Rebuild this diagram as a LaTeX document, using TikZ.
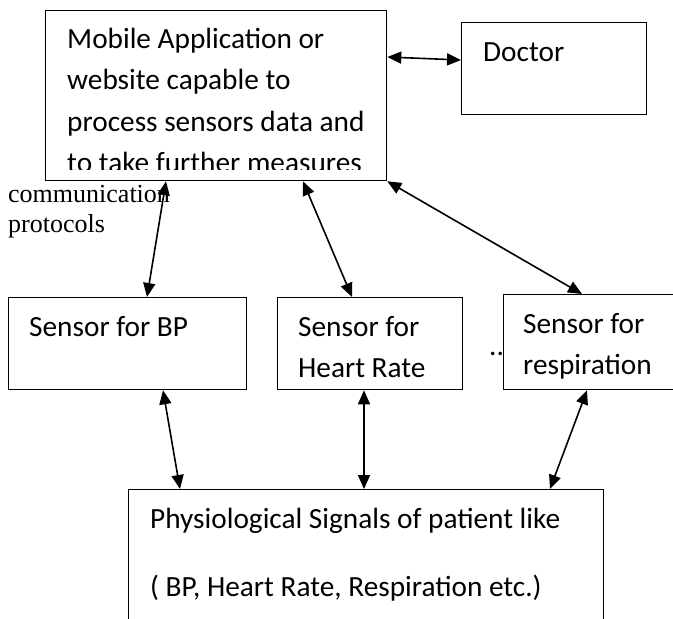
\documentclass[tikz,border=0pt]{standalone}
\usepackage{fontspec}
\setmainfont{Carlito}
\newfontfamily\timesf{Liberation Serif}
\usetikzlibrary{arrows.meta}
\tikzset{
  box/.style={draw=black, line width=1.3pt, fill=white, rectangle, inner sep=0pt, anchor=north west},
  txt/.style={anchor=base west, inner sep=0pt, font=\fontsize{29.3}{34}\selectfont},
  ctxt/.style={anchor=base west, inner sep=0pt, font=\timesf\fontsize{26}{30}\selectfont},
  link/.style={line width=1.6pt, {Triangle[length=14pt,width=12pt]}-{Triangle[length=14pt,width=12pt]}}
}
\begin{document}
\begin{tikzpicture}[x=1pt,y=-1pt]
\useasboundingbox (0,0) rectangle (673,619);
% boxes
\node[box, minimum width=341pt, minimum height=170pt] (main) at (45,10) {};
\node[box, minimum width=185pt, minimum height=92pt] (doctor) at (461,22) {};
\node[box, minimum width=238pt, minimum height=92pt] (bp) at (8,297) {};
\node[box, minimum width=185pt, minimum height=92pt] (hr) at (277,297) {};
\node[txt] (dots) at (489,355) {...};
\node[box, minimum width=200pt, minimum height=95pt] (resp) at (503,294) {};
\node[box, minimum width=475pt, minimum height=160pt] (phys) at (128,489) {};
% main text (clipped at the bottom like the original text frame)
\begin{scope}
\clip (46,11) rectangle (385,169.5);
\node[txt] (m1) at (67,48) {Mobile Application or};
\node[txt] (m2) at (67,89.5) {website capable to};
\node[txt] (m3) at (67,131) {process sensors data and};
\node[txt] (m4) at (67,172.5) {to take further measures};
\end{scope}
\node[txt] (dt) at (483,61) {Doctor};
\node[txt] (bpt) at (29,336) {Sensor for BP};
\node[txt] (hr1) at (298,336) {Sensor for};
\node[txt] (hr2) at (298,377) {Heart Rate};
\node[txt] (rs1) at (523,333) {Sensor for};
\node[txt] (rs2) at (523,374) {respiration};
\node[txt] (p1) at (150,528) {Physiological Signals of patient like};
\node[txt] (p2) at (150,596) {( BP, Heart Rate, Respiration etc.)};
\node[ctxt] (c1) at (8,202) {communication};
\node[ctxt] (c2) at (8,232) {protocols};
% connectors
\draw[link] ([yshift=-47pt]main.north east) -- ([yshift=-38pt]doctor.north west);
\draw[link] ([xshift=121pt]main.south west) -- ([xshift=139pt]bp.north west);
\draw[link] ([xshift=258pt]main.south west) -- ([xshift=75pt]hr.north west);
\draw[link] (main.south east) -- ([xshift=79pt]resp.north west);
\draw[link] ([xshift=155pt]bp.south west) -- ([xshift=52pt]phys.north west);
\draw[link] ([xshift=87pt]hr.south west) -- ([xshift=236pt]phys.north west);
\draw[link] ([xshift=84pt]resp.south west) -- ([xshift=422pt]phys.north west);
\end{tikzpicture}
\end{document}
